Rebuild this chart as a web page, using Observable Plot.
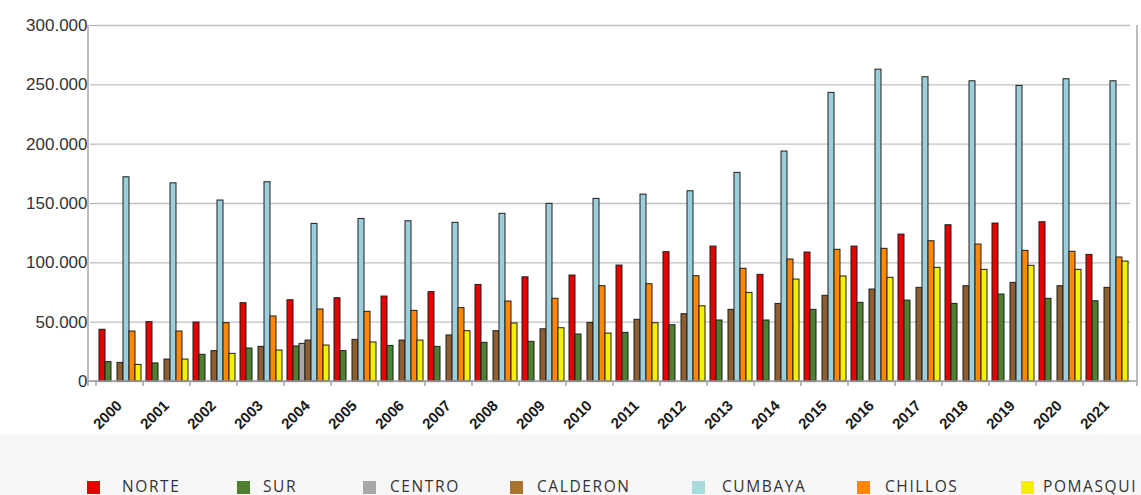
<!DOCTYPE html>
<html>
<head>
<meta charset="utf-8">
<script src="https://cdn.jsdelivr.net/npm/d3@7"></script>
<script src="https://cdn.jsdelivr.net/npm/@observablehq/plot@0.6"></script>
<style>
  html, body { margin: 0; padding: 0; background: #fff; }
  body { width: 1141px; height: 495px; overflow: hidden; font-family: Arial, "Liberation Sans", sans-serif; }
  #chart { position: relative; height: 435px; }
  #legend { position: relative; height: 60px; background: #f7f7f7; }
  .sw { position: absolute; top: 46px; width: 13px; height: 13px; }
  .lb { position: absolute; top: 40px; font-family: "Open Sans", sans-serif; font-size: 15.5px; letter-spacing: 1.6px; color: #333; line-height: 22px; white-space: nowrap; }
</style>
</head>
<body>
<div id="chart"></div>
<div id="legend"></div>
<script>
// ---- data ----
const years = [2000, 2001, 2002, 2003, 2004, 2005, 2006, 2007, 2008, 2009, 2010,
               2011, 2012, 2013, 2014, 2015, 2016, 2017, 2018, 2019, 2020, 2021];
const series = ["NORTE", "SUR", "CENTRO", "CALDERON", "CUMBAYA", "CHILLOS", "POMASQUI"];
const norte    = [43600, 50000, 49700, 66000, 68500, 70200, 71600, 75300, 81400, 87800, 89300,
                  97700, 109000, 113700, 89900, 108700, 113700, 123800, 131700, 133100, 134200, 106700];
const sur      = [16300, 15200, 22500, 27800, 29500, 25600, 30000, 29200, 32600, 33400, 39600,
                  41000, 47400, 51400, 51400, 60400, 66300, 68200, 65400, 73300, 69700, 67600];
const centro   = [0, 0, 0, 0, 31700, 0, 0, 0, 0, 0, 0,
                  0, 0, 0, 0, 0, 0, 0, 0, 0, 0, 0];
const calderon = [15700, 18500, 25600, 29200, 34500, 35100, 34500, 38800, 42400, 44000, 49400,
                  52000, 56700, 60400, 65400, 72200, 77500, 78900, 80300, 83100, 80300, 78900];
const cumbaya  = [172100, 167000, 152500, 167900, 132800, 137000, 135000, 133700, 141300, 149700, 153900,
                  157500, 160300, 175800, 193800, 243200, 262800, 256400, 253000, 249100, 254700, 253000];
const chillos  = [42100, 42100, 49200, 54800, 60700, 58700, 59500, 61800, 67400, 69700, 80300,
                  82000, 88700, 95000, 102800, 111000, 111800, 118200, 115400, 110100, 109300, 104500];
const pomasqui = [14000, 18500, 23300, 26100, 30300, 32900, 34500, 42400, 48900, 44900, 40400,
                  49100, 63400, 74700, 85900, 88500, 87400, 95800, 94100, 97500, 94100, 101100];
const yTicks = [0, 50000, 100000, 150000, 200000, 250000, 300000];
const colors = ["#e60000", "#4f7f30", "#a8a8a8", "#8f5e30", "#9ccfdb", "#ff8800", "#f4f000"];
const legendColors = ["#e60000", "#4f7f30", "#a8a8a8", "#a8742e", "#a8dbdc", "#ff8800", "#f4f000"];

const bySeries = [norte, sur, centro, calderon, cumbaya, chillos, pomasqui];
const rows = [];
years.forEach((yr, i) => series.forEach((s, j) => rows.push({year: String(yr), series: s, value: bySeries[j][i]})));

const fmt = d3.formatLocale({decimal: ",", thousands: ".", grouping: [3], currency: ["", ""]}).format(",");

const chart = Plot.plot({
  width: 1141,
  height: 435,
  marginLeft: 88,
  marginRight: 4,
  marginTop: 25,
  marginBottom: 54,
  style: {background: "#fff", fontFamily: "Arial, 'Liberation Sans', sans-serif", overflow: "visible"},
  fx: {domain: years.map(String), padding: 0, label: null, axis: null},
  x: {domain: series, paddingInner: 0, paddingOuter: 0.27, axis: null},
  y: {domain: [0, 300000], label: null},
  color: {domain: series, range: colors},
  marks: [
    Plot.ruleY(yTicks, {stroke: "#c2c2c2", strokeWidth: 1.3}),
    Plot.barY(rows, {filter: d => d.value > 0, fx: "year", x: "series", y: "value",
                     fill: "series", stroke: "#1e1e1e", strokeWidth: 1}),
    Plot.axisY({ticks: yTicks, tickFormat: fmt, tickSize: 6, tickPadding: 3,
                stroke: "#aaa", fill: "#333", fontSize: 17, label: null}),
    Plot.text(years, {fx: d => String(d), text: d => String(d), frameAnchor: "bottom",
                      rotate: -45, textAnchor: "end", lineAnchor: "bottom", dx: 3, dy: 25,
                      fontSize: 15, fontWeight: "bold", fill: "#1a1a1a"})
  ]
});
document.getElementById("chart").appendChild(chart);

// frame lines and group tick marks, placed with the plot's own scales
const fxS = chart.scale("fx");
const yS = chart.scale("y");
const [fx0, fx1] = fxS.range;
const y0 = yS.apply(0), yTop = yS.apply(300000);
const svg = d3.select(chart);
const g = svg.append("g").attr("stroke", "#9a9a9a").attr("stroke-width", 1.3);
g.append("line").attr("x1", fx0).attr("x2", fx0).attr("y1", yTop).attr("y2", y0 + 5);
g.append("line").attr("x1", fx1).attr("x2", fx1).attr("y1", yTop).attr("y2", y0 + 5);
g.append("line").attr("x1", fx0).attr("x2", fx1).attr("y1", y0).attr("y2", y0);
years.forEach(yr => {
  const x = fxS.apply(String(yr));
  g.append("line").attr("x1", x).attr("x2", x).attr("y1", y0).attr("y2", y0 + 5);
});

// legend
const swatchLeft = [87, 237, 363, 510, 692, 857, 1021];
const labelLeft = [122, 263, 390, 537, 722, 885, 1043];
const legend = document.getElementById("legend");
series.forEach((s, i) => {
  const sw = document.createElement("div");
  sw.className = "sw";
  sw.style.left = swatchLeft[i] + "px";
  sw.style.background = legendColors[i];
  legend.appendChild(sw);
  const lb = document.createElement("div");
  lb.className = "lb";
  lb.style.left = labelLeft[i] + "px";
  lb.textContent = s;
  legend.appendChild(lb);
});
</script>
</body>
</html>
